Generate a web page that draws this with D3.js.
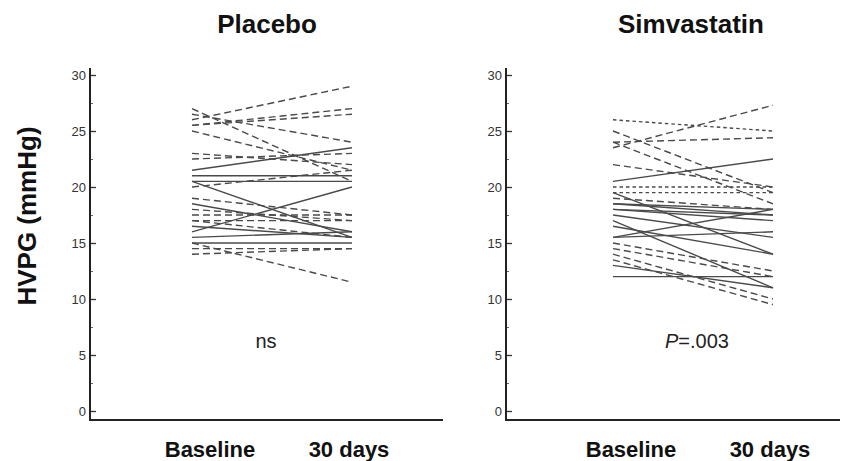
<!DOCTYPE html>
<html>
<head>
<meta charset="utf-8">
<script src="https://cdn.jsdelivr.net/npm/d3@7"></script>
<style>
  html, body { margin: 0; padding: 0; background: #fff; }
  svg { display: block; font-family: "Liberation Sans", Arial, sans-serif; }
</style>
</head>
<body>
<svg id="chart" width="848" height="461"></svg>
<script>
// Time points on the x axis and the HVPG tick values
const timepoints = ["Baseline", "30 days"];
const yTicks = [0, 5, 10, 15, 20, 25, 30];
const yMinorTicks = [2.5, 7.5, 12.5, 17.5, 22.5, 27.5];

// Placebo group: HVPG (mmHg) at baseline and at 30 days, with line style per patient
const placeboBaseline = [26.0, 25.5, 25.5, 26.5, 27.0, 25.0, 23.0, 22.5, 21.5, 21.0, 20.5, 20.0, 19.0,
                         18.5, 18.0, 17.5, 17.0, 16.0, 15.5, 16.5, 15.0, 14.5, 14.0, 15.0, 20.5, 17.0];
const placeboDay30    = [29.0, 27.0, 26.5, 24.0, 20.5, 21.5, 22.0, 23.0, 23.5, 21.0, 20.5, 21.5, 17.5,
                         16.0, 17.0, 17.5, 15.5, 20.0, 16.0, 15.5, 15.0, 14.5, 14.5, 11.5, 15.5, 17.0];
const placeboStyle    = ["dash", "dash", "dash", "dash", "dash", "dash", "dash", "dash", "solid", "solid", "solid", "dash", "dash",
                         "solid", "dash", "dash", "dash", "solid", "solid", "solid", "solid", "dash", "dash", "dash", "solid", "dash"];

// Simvastatin group
const simvaBaseline = [26.0, 23.5, 24.0, 25.0, 24.0, 22.0, 20.5, 20.0, 19.5, 19.5, 19.0, 18.5, 18.5,
                       18.0, 18.0, 17.5, 17.0, 15.5, 15.5, 15.0, 14.5, 14.0, 13.5, 13.0, 12.0, 16.5];
const simvaDay30    = [25.0, 27.3, 24.4, 19.5, 18.5, 20.0, 22.5, 20.0, 19.5, 14.0, 18.0, 17.5, 18.0,
                       17.0, 17.5, 15.5, 11.0, 16.0, 18.0, 12.5, 12.0, 10.0, 9.5, 11.0, 12.0, 14.0];
const simvaStyle    = ["dot", "dash", "dash", "dash", "dash", "dash", "solid", "dot", "dot", "solid", "dash", "solid", "solid",
                       "solid", "solid", "solid", "solid", "solid", "solid", "dash", "dash", "dash", "dash", "solid", "solid", "solid"];

const panelTitles = ["Placebo", "Simvastatin"];
const panelNotes = ["ns", "P=.003"];

const svg = d3.select("#chart");
const dashFor = { solid: null, dash: "7,4", dot: "3.5,3" };

const y = d3.scaleLinear().domain([0, 30]).range([411, 75]);

const panels = [
  { title: panelTitles[0], note: panelNotes[0], base: placeboBaseline, day30: placeboDay30, style: placeboStyle,
    axisX: 90, axisEnd: 443, lineRange: [192, 352], labelX: [210, 349], titleX: 267, noteX: 266 },
  { title: panelTitles[1], note: panelNotes[1], base: simvaBaseline, day30: simvaDay30, style: simvaStyle,
    axisX: 506, axisEnd: 840, lineRange: [613, 773], labelX: [631, 770], titleX: 691, noteX: 697 }
];

panels.forEach((p, pi) => {
  const g = svg.append("g");
  const x = d3.scalePoint().domain(timepoints).range(p.lineRange);

  // Patient lines
  const rows = p.base.map((b, i) => ({ b, e: p.day30[i], s: p.style[i] }));
  g.selectAll("line.patient").data(rows).join("line")
    .attr("class", "patient")
    .attr("x1", x(timepoints[0])).attr("x2", x(timepoints[1]))
    .attr("y1", d => y(d.b)).attr("y2", d => y(d.e))
    .attr("stroke", "#4a4a4a")
    .attr("stroke-width", 1.4)
    .attr("stroke-dasharray", d => dashFor[d.s]);

  // Y axis with inward ticks
  const axis = d3.axisRight(y).tickValues(yTicks).tickSize(6).tickFormat("");
  const ag = g.append("g").attr("transform", `translate(${p.axisX},0)`).call(axis);
  ag.select(".domain").remove();
  ag.selectAll(".tick line").attr("stroke", "#333").attr("stroke-width", 1.3);

  const minor = d3.axisRight(y).tickValues(yMinorTicks).tickSize(3).tickFormat("");
  const mg = g.append("g").attr("transform", `translate(${p.axisX},0)`).call(minor);
  mg.select(".domain").remove();
  mg.selectAll(".tick line").attr("stroke", "#666").attr("stroke-width", 1);

  g.selectAll("text.ytick").data(yTicks).join("text")
    .attr("class", "ytick")
    .attr("x", p.axisX - 4).attr("y", d => y(d) + 4.5)
    .attr("text-anchor", "end")
    .attr("font-size", 13)
    .attr("fill", "#333")
    .text(d => d);

  // Axis frame (left and bottom)
  g.append("path")
    .attr("d", `M${p.axisX},68 V420 H${p.axisEnd}`)
    .attr("fill", "none")
    .attr("stroke", "#222")
    .attr("stroke-width", 2);

  // Time point labels
  g.selectAll("text.xlabel").data(timepoints).join("text")
    .attr("class", "xlabel")
    .attr("x", (d, i) => p.labelX[i]).attr("y", 457)
    .attr("text-anchor", "middle")
    .attr("font-size", 22)
    .attr("font-weight", "bold")
    .attr("fill", "#111")
    .text(d => d);

  // Panel title
  g.append("text")
    .attr("x", p.titleX).attr("y", 33)
    .attr("text-anchor", "middle")
    .attr("font-size", 26)
    .attr("font-weight", "bold")
    .attr("fill", "#111")
    .text(p.title);

  // Significance note
  const note = g.append("text")
    .attr("x", p.noteX).attr("y", 348)
    .attr("text-anchor", "middle")
    .attr("font-size", 20)
    .attr("fill", "#222");
  if (p.note.startsWith("P")) {
    note.append("tspan").attr("font-style", "italic").text("P");
    note.append("tspan").text(p.note.slice(1));
  } else {
    note.text(p.note);
  }
});

// Shared y axis title
svg.append("text")
  .attr("transform", "translate(36,216) rotate(-90)")
  .attr("text-anchor", "middle")
  .attr("font-size", 26)
  .attr("font-weight", "bold")
  .attr("fill", "#111")
  .text("HVPG (mmHg)");
</script>
</body>
</html>
